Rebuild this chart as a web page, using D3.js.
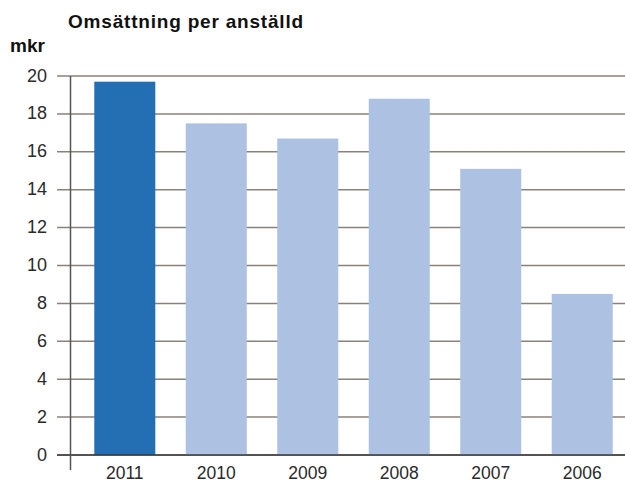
<!DOCTYPE html>
<html>
<head>
<meta charset="utf-8">
<script src="https://cdn.jsdelivr.net/npm/d3@7"></script>
<style>
  body { margin: 0; background: #fff; }
  svg { font-family: "Liberation Sans", Arial, sans-serif; }
</style>
</head>
<body>
<svg id="chart" width="625" height="484"></svg>
<script>
const years = ["2011", "2010", "2009", "2008", "2007", "2006"];
const values = [19.7, 17.5, 16.7, 18.8, 15.1, 8.5];
const yTicks = [0, 2, 4, 6, 8, 10, 12, 14, 16, 18, 20];

const svg = d3.select("#chart");

const x = d3.scaleBand()
    .domain(years)
    .range([79, 628])
    .paddingInner(0.333)
    .paddingOuter(0.167);

const y = d3.scaleLinear()
    .domain([0, 20])
    .range([455, 76]);

// gridlines
svg.append("g")
    .selectAll("line")
    .data(yTicks)
    .enter().append("line")
    .attr("x1", 57)
    .attr("x2", 625)
    .attr("y1", d => y(d))
    .attr("y2", d => y(d))
    .style("stroke", "#8a817a")
    .style("stroke-width", 1.5);

// tick labels
svg.append("g")
    .selectAll("text")
    .data(yTicks)
    .enter().append("text")
    .attr("x", 47)
    .attr("y", d => y(d) + 5.5)
    .attr("text-anchor", "end")
    .style("font-size", "18px")
    .style("fill", "#2a2a2a")
    .text(d => d);

// bars
svg.append("g")
    .selectAll("rect")
    .data(values)
    .enter().append("rect")
    .attr("x", (d, i) => x(years[i]))
    .attr("width", x.bandwidth())
    .attr("y", d => y(d))
    .attr("height", d => y(0) - y(d))
    .style("fill", (d, i) => i === 0 ? "#246fb3" : "#adc2e2");

// baseline
svg.append("line")
    .attr("x1", 57).attr("x2", 625)
    .attr("y1", y(0)).attr("y2", y(0))
    .style("stroke", "#3a3a3a")
    .style("stroke-width", 1.5);

// vertical axis
svg.append("line")
    .attr("x1", 70.5).attr("x2", 70.5)
    .attr("y1", y(20)).attr("y2", 470)
    .style("stroke", "#555")
    .style("stroke-width", 1.5);

// year labels
svg.append("g")
    .selectAll("text")
    .data(years)
    .enter().append("text")
    .attr("x", d => x(d) + x.bandwidth() / 2)
    .attr("y", 479)
    .attr("text-anchor", "middle")
    .style("font-size", "17.5px")
    .style("fill", "#2a2a2a")
    .text(d => d);

svg.append("text")
    .attr("x", 68).attr("y", 28)
    .style("font-size", "19px")
    .style("font-weight", "bold")
    .style("letter-spacing", "0.8px")
    .style("fill", "#111")
    .text("Omsättning per anställd");

svg.append("text")
    .attr("x", 10).attr("y", 52)
    .style("font-size", "19px")
    .style("font-weight", "bold")
    .style("fill", "#111")
    .text("mkr");
</script>
</body>
</html>
